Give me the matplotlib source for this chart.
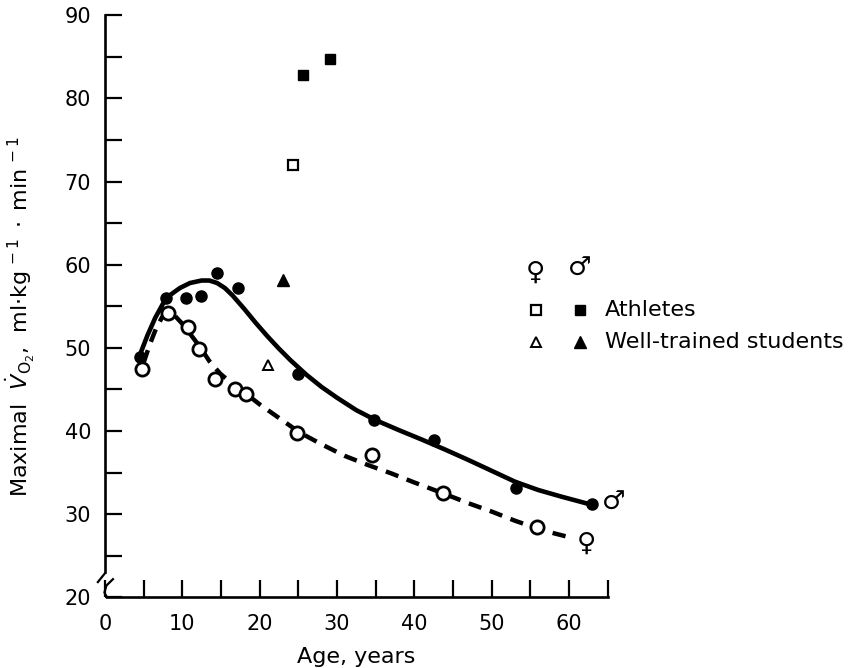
import matplotlib
matplotlib.use("Agg")
import matplotlib.pyplot as plt
from matplotlib.ticker import MultipleLocator

plt.rcParams['font.family'] = ['DejaVu Sans']
plt.rcParams['mathtext.fontset'] = 'dejavusans'

# fitted curves
male_fit_x = [4.5, 5.5, 6.5, 7.5, 8.5, 9.7, 11, 12.5, 13.5, 14.5, 15.5, 16.5, 18, 19.5, 21, 22.5, 24, 26, 28,
              30, 32.5, 35, 38, 41, 44, 47, 50, 53, 56, 59, 61, 63]
male_fit_y = [49.1, 51.5, 53.6, 55.3, 56.4, 57.2, 57.8, 58.1, 58.1, 57.8, 57.2, 56.3, 54.7, 53.0, 51.4, 49.9, 48.5,
              46.8, 45.3, 44.0, 42.5, 41.3, 40.1, 38.95, 37.75, 36.5, 35.2, 33.9, 32.9, 32.1, 31.6, 31.1]
female_fit_x = [5, 5.8, 6.6, 7.4, 8.1, 9, 10, 11, 12.3, 13.5, 14.9, 16.3, 17.8, 20, 22.6, 25.2, 28, 31, 34, 37,
                40, 43.7, 47, 50, 53, 55.8, 58, 60.5]
female_fit_y = [48.2, 50.4, 52.3, 53.7, 54.4, 53.9, 52.9, 51.7, 50.1, 48.4, 46.9, 45.8, 44.8, 43.2, 41.5, 39.8,
                38.4, 37.0, 35.9, 34.9, 33.8, 32.5, 31.3, 30.3, 29.2, 28.3, 27.7, 27.1]

# measured points
male_x = [4.6, 7.9, 10.5, 12.4, 14.5, 17.2, 24.9, 34.8, 42.5, 53.2, 62.9]
male_y = [48.9, 56.0, 56.0, 56.2, 59.0, 57.2, 46.9, 41.3, 38.9, 33.1, 31.2]
female_x = [4.8, 8.1, 10.7, 12.1, 14.2, 16.8, 18.2, 24.8, 34.5, 43.7, 55.9]
female_y = [47.5, 54.2, 52.5, 49.9, 46.3, 45.0, 44.5, 39.7, 37.1, 32.5, 28.4]

ath_f_x, ath_f_y = [24.3], [72.0]
ath_m_x, ath_m_y = [25.6, 29.1], [82.8, 84.8]
stu_f_x, stu_f_y = [21.1], [47.9]
stu_m_x, stu_m_y = [23.0], [58.2]

fig = plt.figure(figsize=(8.67, 6.68), dpi=100)
ax = fig.add_axes([0.121, 0.106, 0.580, 0.871])

ax.plot(male_fit_x, male_fit_y, color='black', lw=3.3, solid_capstyle='round', solid_joinstyle='round')
ax.plot(female_fit_x, female_fit_y, color='black', lw=3.2, dashes=(3, 2))

ax.plot(male_x, male_y, 'o', color='black', ms=8, zorder=3)
ax.plot(female_x, female_y, 'o', mfc='white', mec='black', mew=2, ms=9.5, zorder=4)
ax.plot(ath_f_x, ath_f_y, 's', mfc='white', mec='black', mew=1.6, ms=6.5)
ax.plot(ath_m_x, ath_m_y, 's', color='black', ms=7)
ax.plot(stu_f_x, stu_f_y, '^', mfc='white', mec='black', mew=1.4, ms=7)
ax.plot(stu_m_x, stu_m_y, '^', color='black', ms=8)

ax.text(62.3, 26.4, '\u2640', fontsize=19, fontweight='bold', ha='center', va='center')
ax.text(65.8, 31.4, '\u2642', fontsize=19, fontweight='bold', ha='center', va='center', clip_on=False)

ax.set_xlim(0, 65)
ax.set_ylim(20, 90)
ax.spines['top'].set_visible(False)
ax.spines['right'].set_visible(False)
ax.spines['left'].set_linewidth(1.9)
ax.spines['bottom'].set_linewidth(1.9)
ax.spines['left'].set_bounds(23, 90)
ax.spines['bottom'].set_bounds(0.3, 65)

ax.xaxis.set_major_locator(MultipleLocator(10))
ax.yaxis.set_major_locator(MultipleLocator(10))
ax.set_xticks(list(range(5, 70, 10)), minor=True)
ax.set_yticks(list(range(25, 95, 10)), minor=True)
ax.tick_params(which='both', direction='in', length=12, width=1.6)
ax.tick_params(axis='x', which='major', labelsize=15, pad=12)
ax.tick_params(axis='y', which='major', labelsize=15, pad=10)
ax.xaxis.get_major_ticks()[0].tick1line.set_visible(False)
ax.yaxis.get_major_ticks()[0].tick1line.set_visible(False)

# axis break marks
ax.plot([-0.014, 0.0], [0.026, 0.041], transform=ax.transAxes, color='black', lw=1.6, clip_on=False)
ax.plot([0.004, -0.001, 0.003, 0.016], [0.0, 0.008, 0.02, 0.031], transform=ax.transAxes,
        color='black', lw=1.6, clip_on=False)

ax.set_xlabel('Age, years', fontsize=16)
ax.xaxis.set_label_coords(0.5, -0.085)
ax.set_ylabel(r'Maximal  $\dot{V}_{\mathrm{O_2}}$,  ml$\cdot$kg$^{\,-1}\;\cdot\;$min$^{\,-1}$', fontsize=16)
ax.yaxis.set_label_coords(-0.135, 0.483)

# legend
lx1, lx2, tx = 0.857, 0.944, 0.994
ax.text(lx1, 0.558, '\u2640', transform=ax.transAxes, fontsize=19, fontweight='bold',
        ha='center', va='center')
ax.text(lx2, 0.565, '\u2642', transform=ax.transAxes, fontsize=19, fontweight='bold',
        ha='center', va='center')
ax.plot([lx1], [0.493], 's', mfc='white', mec='black', mew=1.6, ms=6.5, transform=ax.transAxes, clip_on=False)
ax.plot([lx2], [0.493], 's', color='black', ms=7, transform=ax.transAxes, clip_on=False)
ax.plot([lx1], [0.438], '^', mfc='white', mec='black', mew=1.4, ms=7, transform=ax.transAxes, clip_on=False)
ax.plot([lx2], [0.438], '^', color='black', ms=8, transform=ax.transAxes, clip_on=False)
ax.text(tx, 0.493, 'Athletes', transform=ax.transAxes, fontsize=16, va='center')
ax.text(tx, 0.438, 'Well-trained students', transform=ax.transAxes, fontsize=16, va='center')

fig.savefig('out.png', dpi=100, facecolor='white')
